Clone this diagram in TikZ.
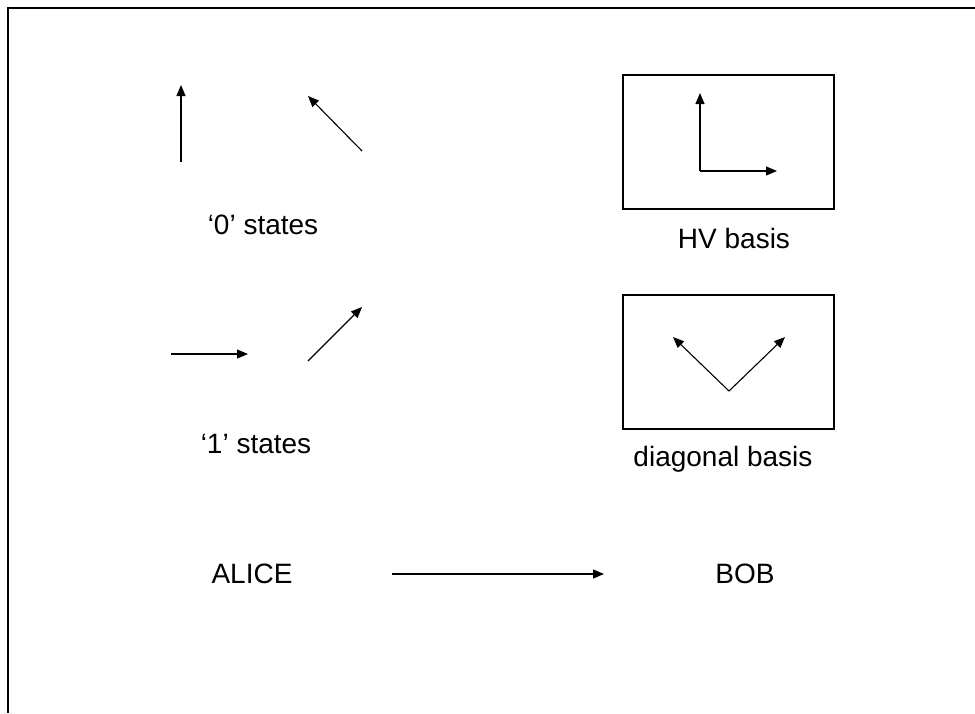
\documentclass[tikz,border=0pt]{standalone}
\usepackage{fontspec}
\setmainfont{Liberation Sans}
\usetikzlibrary{arrows.meta}
\begin{document}
\begin{tikzpicture}[x=1pt,y=-1pt,
  vec/.style={line width=1.1pt,-{Triangle[length=11pt,width=9pt]}},
  lbl/.style={font=\fontsize{28}{32}\selectfont,inner sep=0pt},
  frame/.style={line width=1.3pt},
  basisbox/.style={draw,line width=1.1pt}]
\useasboundingbox (0,0) rectangle (975,713);
% frame
\coordinate (fTR) at (975,8);
\coordinate (fTL) at (8,8);
\coordinate (fBL) at (8,713);
\draw[frame] (fTR) -- (fTL) -- (fBL);
% '0' states
\coordinate (a0s) at (181,162); \coordinate (a0e) at (181,85);
\draw[vec] (a0s) -- (a0e);
\coordinate (b0s) at (362,151); \coordinate (b0e) at (308,96);
\draw[vec] (b0s) -- (b0e);
\node[lbl] (zero) at (263,225) {‘0’ states};
% '1' states
\coordinate (a1s) at (171,354); \coordinate (a1e) at (248,354);
\draw[vec] (a1s) -- (a1e);
\coordinate (b1s) at (308,361); \coordinate (b1e) at (362,307);
\draw[vec] (b1s) -- (b1e);
\node[lbl] (one) at (256,444) {‘1’ states};
% HV basis
\draw[basisbox] (623,75) rectangle (834,209);
\coordinate (hvO) at (700,171);
\coordinate (hvU) at (700,93);
\coordinate (hvR) at (777,171);
\draw[vec] (hvO) -- (hvU);
\draw[vec] (hvO) -- (hvR);
\node[lbl] (hv) at (734,238) {HV basis};
% diagonal basis
\draw[basisbox] (623,295) rectangle (834,429);
\coordinate (dO) at (729,391);
\coordinate (dL) at (673,337);
\coordinate (dR) at (785,337);
\draw[vec] (dO) -- (dL);
\draw[vec] (dO) -- (dR);
\node[lbl] (diag) at (723,459) {diagonal basis};
% Alice -> Bob
\node[lbl] (alice) at (252,574) {ALICE};
\node[lbl] (bob) at (745,574) {BOB};
\coordinate (ch1) at (392,574);
\coordinate (ch2) at (604,574);
\draw[vec] (ch1) -- (ch2);
\end{tikzpicture}
\end{document}
